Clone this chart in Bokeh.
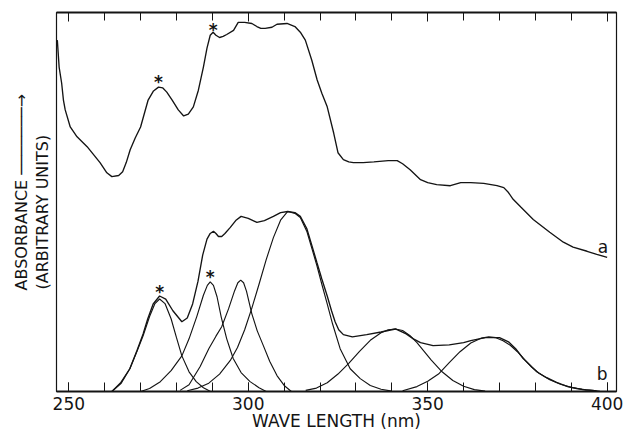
import numpy as np
from bokeh.plotting import figure
from bokeh.models import Range1d, LinearAxis, Label, Title, FixedTicker, CustomJSTickFormatter
from bokeh.embed import file_html
from bokeh.resources import INLINE

# ---------------- data ----------------
# x ticks (nm)
major_ticks = [250, 300, 350, 400]
minor_ticks = [250, 260, 270, 280, 290, 300, 310, 320, 330, 340, 350, 360, 370, 380, 390, 400]

# curve a : measured spectrum
nm_a = [246.8, 247.3, 248.0, 248.5, 249.0, 250.4, 252.3, 255.1, 258.7, 260.6, 262.0, 263.9, 265.0,
        266.0, 267.1, 268.5, 270.0, 272.1, 273.6, 275.0, 276.2, 277.3, 278.8, 280.5, 282.0, 283.3,
        284.7, 286.1, 287.5, 288.5, 289.4, 290.2, 291.0, 292.0, 293.0, 294.0, 295.9, 297.2, 299.0,
        301.0, 302.4, 303.5, 304.7, 306.6, 308.0, 310.8, 313.0, 314.5, 315.9, 317.7, 319.2, 320.5,
        322.0, 323.8, 325.0, 326.5, 328.0, 329.3, 332.0, 335.0, 339.0, 341.5, 343.0, 345.1, 348.0,
        350.0, 352.5, 356.3, 359.2, 362.0, 365.6, 369.3, 371.2, 372.5, 373.8, 376.0, 379.4, 384.0,
        387.8, 390.5, 394.4, 397.1, 400.0]
abs_a = [92.7, 85.6, 81.4, 76.9, 74.3, 69.8, 67.2, 64.6, 60.4, 57.7, 56.7, 57.0, 58.0,
         60.4, 63.8, 66.9, 69.8, 76.9, 79.3, 80.3, 80.1, 79.0, 76.9, 74.3, 72.7, 73.2,
         75.1, 79.5, 85.6, 90.6, 94.0, 94.8, 94.0, 93.4, 93.7, 94.2, 95.3, 97.4, 97.4,
         97.1, 96.3, 95.8, 95.8, 96.1, 96.9, 97.1, 96.3, 94.8, 92.7, 87.4, 82.2, 78.7,
         75.1, 68.2, 63.0, 61.2, 60.6, 60.4, 60.4, 60.6, 60.9, 60.9, 60.1, 58.5, 55.9,
         55.1, 54.6, 54.3, 55.1, 55.1, 54.9, 54.3, 53.8, 52.5, 50.7, 48.6, 45.4, 42.0,
         39.4, 38.1, 37.0, 36.2, 35.4]

# curve b : fitted sum
nm_b = [262.0, 264.5, 267.0, 269.0, 270.7, 272.0, 273.5, 275.3, 277.0, 279.0, 281.5, 283.0, 284.5,
        286.0, 287.3, 288.5, 289.4, 290.3, 291.0, 291.7, 292.6, 293.5, 295.0, 296.5, 298.0, 300.0,
        302.4, 304.5, 307.0, 309.0, 311.0, 313.0, 314.5, 316.3, 317.8, 319.1, 320.5, 322.0, 323.2,
        324.2, 325.2, 326.5, 329.0, 333.0, 337.0, 341.0, 344.0, 346.0, 348.0, 351.5, 356.0, 360.0,
        362.0, 366.0, 370.0, 372.5, 374.5, 376.6, 380.4, 383.0, 385.9, 389.0, 391.5, 394.0, 396.0, 398.0]
abs_b = [0.0, 2.1, 6.0, 10.8, 15.2, 19.2, 23.1, 25.2, 24.4, 21.3, 18.4, 19.4, 23.1,
         29.1, 36.0, 40.2, 41.7, 42.3, 41.7, 40.9, 40.9, 41.7, 43.3, 45.1, 46.2, 45.7,
         44.6, 45.1, 46.2, 47.2, 47.5, 47.2, 46.2, 43.0, 38.3, 34.1, 29.7, 25.2, 21.3,
         18.4, 16.3, 15.0, 14.4, 15.0, 15.7, 16.5, 15.2, 13.9, 12.9, 12.1, 12.3, 12.9,
         13.4, 14.2, 14.2, 13.1, 11.3, 8.7, 5.2, 3.7, 2.4, 1.3, 0.8, 0.4, 0.3, 0.0]

# components of b
nm_c1 = [262.0, 264.5, 267.0, 269.0, 270.7, 272.5, 274.0, 275.3, 276.8, 278.5, 280.0, 281.5, 283.5, 285.5, 287.5, 289.5]
abs_c1 = [0.0, 2.4, 6.0, 10.6, 14.7, 19.8, 23.2, 24.4, 23.2, 19.2, 14.2, 9.4, 5.2, 2.6, 1.0, 0.0]

nm_c2 = [270.0, 272.5, 275.5, 278.5, 281.5, 283.5, 285.7, 287.5, 288.6, 289.4, 290.3, 291.3, 292.5, 294.0, 295.8, 298.0, 300.5, 303.0, 305.0]
abs_c2 = [0.0, 0.8, 2.6, 5.5, 9.4, 13.9, 19.9, 25.4, 28.0, 28.9, 28.0, 25.0, 19.5, 13.9, 8.7, 5.0, 2.6, 1.0, 0.0]

nm_c3 = [281.0, 283.5, 286.6, 289.0, 291.0, 292.6, 294.5, 296.2, 297.1, 297.9, 298.7, 299.5, 301.0, 302.5, 304.2, 306.0, 308.0, 310.0, 312.0]
abs_c3 = [0.3, 1.8, 6.6, 11.3, 14.6, 17.1, 21.8, 26.6, 28.7, 29.4, 28.7, 26.5, 20.5, 16.0, 12.1, 7.9, 4.2, 1.6, 0.0]

nm_c4 = [283.0, 286.0, 289.0, 292.0, 295.0, 297.0, 299.0, 301.0, 303.0, 305.0, 307.0, 309.0, 311.0, 313.0,
         314.5, 316.3, 317.8, 319.1, 320.5, 322.0, 323.5, 325.6, 328.4, 331.2, 334.0, 337.0, 340.0]
abs_c4 = [0.2, 0.9, 2.2, 4.6, 8.2, 11.6, 16.3, 22.0, 28.3, 34.8, 40.6, 45.2, 47.5, 47.0,
          45.9, 42.3, 37.5, 33.3, 28.3, 23.1, 17.8, 11.3, 6.0, 3.4, 1.6, 0.6, 0.1]

nm_c5 = [316, 319, 322, 325, 328, 331, 334, 337, 339, 341, 343, 345, 347, 349, 351, 354, 357, 360, 363, 366]
abs_c5 = [0.3, 0.9, 2.3, 4.6, 7.4, 10.6, 13.5, 15.5, 16.3, 16.5, 16.1, 14.8, 12.9, 10.6, 8.3, 5.2, 2.9, 1.4, 0.5, 0.1]

nm_c6 = [343, 347, 350, 353, 356, 359, 362, 365, 367, 369, 371, 373, 375, 377, 379, 381, 384, 387, 390, 393, 397]
abs_c6 = [0.2, 1.3, 2.7, 4.6, 7.6, 10.5, 12.8, 14.1, 14.4, 14.2, 13.4, 12.2, 10.5, 8.4, 6.4, 4.8, 3.1, 1.9, 1.1, 0.6, 0.2]

# peaks marked with an asterisk
star_a_nm = [275.0, 290.2]
star_b_nm = [275.3, 289.4]

x_label = "WAVE LENGTH (nm)"
y_label_1 = "ABSORBANCE " + "\u2500" * 7 + "\u2192"
y_label_2 = "(ARBITRARY UNITS)"

# ---------------- figure ----------------
FONT = "DejaVu Sans"
INK = "#141414"

p = figure(width=623, height=433, output_backend="svg", toolbar_location=None,
           x_range=Range1d(246.57, 402.6), y_range=Range1d(0, 100),
           y_axis_location=None,
           min_border_left=56, min_border_right=7, min_border_top=12, min_border_bottom=40)
p.background_fill_color = "white"
p.border_fill_color = "white"
p.xgrid.visible = False
p.ygrid.visible = False
p.outline_line_color = INK
p.outline_line_width = 1.2

ticker = FixedTicker(ticks=major_ticks, minor_ticks=minor_ticks)

xa = p.xaxis[0]
xa.ticker = ticker
xa.major_tick_in = 9
xa.major_tick_out = 0
xa.minor_tick_in = 9
xa.minor_tick_out = 0
xa.major_tick_line_color = INK
xa.minor_tick_line_color = INK
xa.axis_line_width = 2
xa.axis_line_color = INK
xa.major_label_text_font = FONT
xa.major_label_text_font_size = "17px"
xa.major_label_text_color = INK
xa.major_label_standoff = 5
xa.axis_label = x_label
xa.axis_label_text_font = FONT
xa.axis_label_text_font_size = "17px"
xa.axis_label_text_font_style = "normal"
xa.axis_label_text_color = INK
xa.axis_label_standoff = -2

top = LinearAxis(ticker=ticker, major_tick_in=9, major_tick_out=0, minor_tick_in=8, minor_tick_out=0,
                 axis_line_width=2, axis_line_color=INK, major_tick_line_color=INK,
                 minor_tick_line_color=INK, major_label_text_font_size="9px",
                 formatter=CustomJSTickFormatter(code="return ''"),
                 major_label_standoff=0)
p.add_layout(top, "above")

lw = 1.35
p.line(nm_a, abs_a, line_color=INK, line_width=lw)
p.line(nm_b, abs_b, line_color=INK, line_width=lw)
for xs, ys in [(nm_c1, abs_c1), (nm_c2, abs_c2), (nm_c3, abs_c3),
               (nm_c4, abs_c4), (nm_c5, abs_c5), (nm_c6, abs_c6)]:
    p.line(xs, ys, line_color=INK, line_width=1.15)

# asterisks above the marked peaks
px_per_unit = 3.81
star_specs = [(star_a_nm[0], np.interp(star_a_nm[0], nm_a, abs_a), 5),
              (star_a_nm[1], np.interp(star_a_nm[1], nm_a, abs_a), 2),
              (star_b_nm[0], np.interp(star_b_nm[0], nm_b, abs_b), 4),
              (star_b_nm[1], np.interp(star_b_nm[1], nm_c2, abs_c2), 5)]
for sx, sy, off in star_specs:
    p.add_layout(Label(x=sx, y=sy + off / px_per_unit, text="*", text_align="center",
                       text_baseline="middle", text_font=FONT, text_font_size="17px",
                       text_font_style="bold", text_color=INK))

# curve labels
p.add_layout(Label(x=nm_a[-1] - 1.2, y=abs_a[-1] + 2.6, text="a", text_align="center",
                   text_baseline="middle", text_font=FONT, text_font_size="17px", text_color=INK))
p.add_layout(Label(x=nm_b[-1] + 0.6, y=abs_b[-1] + 4.6, text="b", text_align="center",
                   text_baseline="middle", text_font=FONT, text_font_size="17px", text_color=INK))

# y axis title: two rotated lines on the left (first added = closest to the frame)
p.add_layout(Title(text=y_label_2, align="left", offset=102, standoff=9.4,
                   text_font=FONT, text_font_size="16px", text_font_style="normal",
                   text_color=INK), "left")
p.add_layout(Title(text=y_label_1, align="left", offset=101, standoff=-8,
                   text_font=FONT, text_font_size="16px", text_font_style="normal",
                   text_color=INK), "left")

open("out.html", "w").write(file_html(p, INLINE))
